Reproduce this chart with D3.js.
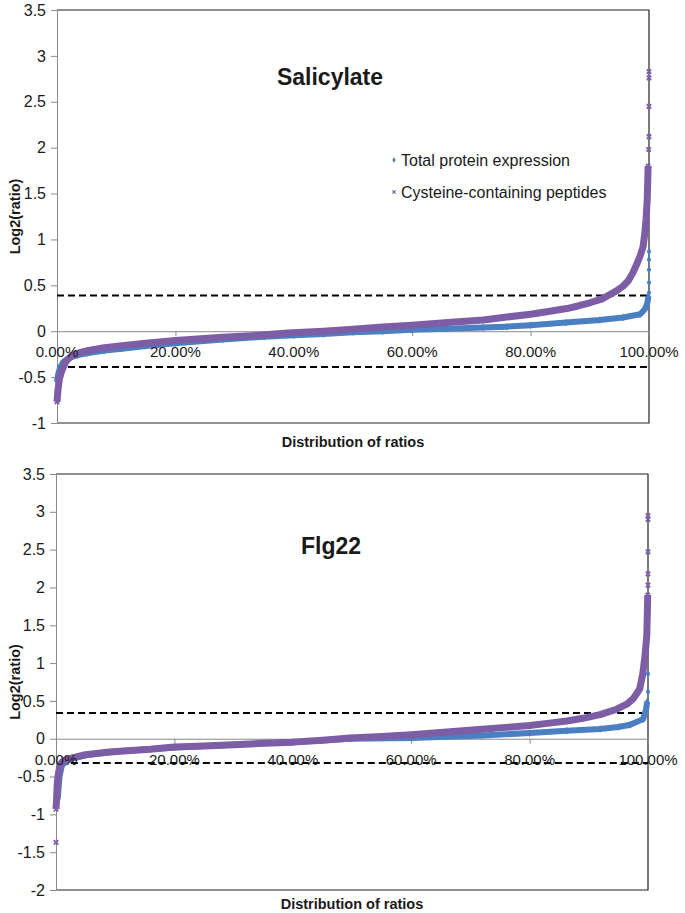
<!DOCTYPE html>
<html><head><meta charset="utf-8">
<script src="https://cdn.jsdelivr.net/npm/d3@7"></script>
<style>
body{margin:0;background:#fff}
svg{display:block}
text{font-family:"Liberation Sans",Arial,sans-serif;fill:#1a1a1a}
</style>
</head><body>
<svg id="c" width="685" height="913"></svg>
<script>
// ---------- data ----------
const seriesNames = ["Total protein expression", "Cysteine-containing peptides"];
const xTicks = [0, 20, 40, 60, 80, 100];
const xTickLabels = ["0.00%", "20.00%", "40.00%", "60.00%", "80.00%", "100.00%"];
const salYTicks = [-1, -0.5, 0, 0.5, 1, 1.5, 2, 2.5, 3, 3.5];
const flgYTicks = [-2, -1.5, -1, -0.5, 0, 0.5, 1, 1.5, 2, 2.5, 3, 3.5];

// Salicylate – total protein expression (blue)
const salTotalPct = [0, 0.2, 0.5, 1, 2, 3.5, 5, 8, 11, 15, 20, 28, 35, 40, 45, 50, 55, 60, 66, 72, 76, 80, 86, 91.7, 95.6, 98.5, 99.3, 99.7, 99.9];
const salTotalVal = [-0.55, -0.47, -0.4, -0.34, -0.29, -0.26, -0.24, -0.21, -0.19, -0.16, -0.13, -0.09, -0.06, -0.045, -0.03, -0.01, 0.0, 0.015, 0.028, 0.04, 0.05, 0.065, 0.094, 0.123, 0.15, 0.185, 0.24, 0.30, 0.38];
const salTotalOutPct = [100, 100, 100, 100, 100];
const salTotalOutVal = [0.42, 0.53, 0.67, 0.78, 0.87];

// Salicylate – cysteine-containing peptides (purple)
const salCysPct = [0, 0.15, 0.4, 0.8, 1.5, 2.5, 4, 5.3, 8, 11, 15, 20, 28, 34, 39, 45, 50, 55, 60, 66, 72, 76, 80, 83, 86.1, 88, 90, 92, 93.4, 94.5, 95.6, 96.5, 97.3, 98, 98.5, 99, 99.3, 99.5, 99.7, 99.85];
const salCysVal = [-0.77, -0.65, -0.52, -0.43, -0.33, -0.265, -0.23, -0.21, -0.18, -0.157, -0.13, -0.10, -0.066, -0.045, -0.02, 0.0, 0.022, 0.045, 0.065, 0.095, 0.123, 0.155, 0.185, 0.215, 0.247, 0.275, 0.31, 0.35, 0.40, 0.44, 0.49, 0.55, 0.64, 0.74, 0.82, 0.92, 1.07, 1.22, 1.43, 1.80];
const salCysOutPct = [99.95, 100, 100, 100, 100];
const salCysOutVal = [1.98, 2.12, 2.45, 2.76, 2.83];

// Flg22 – total protein expression (blue)
const flgTotalPct = [0, 0.3, 0.6, 1, 2, 5, 10, 20, 30, 40, 49.7, 60, 72, 80, 86.3, 91.9, 95, 97, 99.2, 99.7, 99.85];
const flgTotalVal = [-0.85, -0.78, -0.5, -0.35, -0.28, -0.22, -0.17, -0.115, -0.08, -0.045, 0.0, 0.01, 0.044, 0.075, 0.105, 0.13, 0.155, 0.185, 0.26, 0.40, 0.49];
const flgTotalOutPct = [100, 100];
const flgTotalOutVal = [0.62, 0.86];

// Flg22 – cysteine-containing peptides (purple)
const flgCysPct = [0, 0.1, 0.2, 0.35, 0.5, 0.7, 1, 1.5, 2.9, 5, 8.6, 12, 15.9, 20, 25, 30, 35, 40, 45, 49.7, 55, 60, 66, 72, 76, 80, 83, 86.3, 89, 91.9, 94.7, 96.5, 97.5, 98.3, 98.6, 99.1, 99.5, 99.8, 99.9, 99.95];
const flgCysVal = [-0.93, -0.8, -0.6, -0.49, -0.42, -0.35, -0.31, -0.28, -0.25, -0.21, -0.18, -0.16, -0.14, -0.11, -0.095, -0.08, -0.06, -0.045, -0.02, 0.01, 0.03, 0.053, 0.088, 0.124, 0.15, 0.176, 0.203, 0.234, 0.27, 0.318, 0.39, 0.46, 0.53, 0.62, 0.66, 0.85, 1.1, 1.37, 1.7, 1.9];
const flgCysOutPct = [0, 100, 100, 100, 100, 100];
const flgCysOutVal = [-1.37, 2.03, 2.18, 2.47, 2.9, 2.95];

// threshold lines [value, start %, end %]
const salThresholds = [[0.39, 0, 100], [-0.39, 0, 100]];
const flgThresholds = [[0.34, 0, 100], [-0.32, 2.5, 100]];

const blue = "#4a7fc1";
const purple = "#7d5ea6";

// ---------- drawing ----------
const svg = d3.select("#c");

function drawPanel(cfg) {
  const g = svg.append("g");
  const x = d3.scaleLinear().domain([0, 100]).range([cfg.left, cfg.right]);
  const y = d3.scaleLinear().domain(cfg.yDomain).range([cfg.bottom, cfg.top]);

  // plot area border (top, right, bottom)
  g.append("path")
    .attr("d", `M${cfg.left},${cfg.top}H${cfg.right}V${cfg.bottom}H${cfg.left}`)
    .attr("fill", "none").attr("stroke", "#222").attr("stroke-width", 1.2);

  // y axis
  const yAxis = d3.axisLeft(y).tickValues(cfg.yTicks).tickSize(6).tickSizeOuter(0)
    .tickFormat(d => String(d));
  const ya = g.append("g").attr("transform", `translate(${cfg.left},0)`).call(yAxis);
  ya.select(".domain").attr("stroke", "#8a8a8a");
  ya.selectAll(".tick line").attr("stroke", "#8a8a8a");
  ya.selectAll(".tick text").attr("x", -11).attr("font-size", 16).attr("fill", "#1a1a1a")
    .style("font-family", '"Liberation Sans",Arial,sans-serif');

  // zero axis line with ticks
  const xa = d3.axisBottom(x).tickValues(xTicks).tickSize(5).tickSizeOuter(0)
    .tickFormat(() => "");
  const xg = g.append("g").attr("transform", `translate(0,${y(0)})`).call(xa);
  xg.select(".domain").attr("stroke", "#8a8a8a");
  xg.selectAll(".tick line").attr("stroke", "#8a8a8a");

  // threshold dashed lines
  cfg.thresholds.forEach(t => {
    g.append("line")
      .attr("x1", x(t[1])).attr("x2", x(t[2]))
      .attr("y1", y(t[0])).attr("y2", y(t[0]))
      .attr("stroke", "#000").attr("stroke-width", 2)
      .attr("stroke-dasharray", "7,4");
  });

  // series
  const line = d3.line().x(d => x(d[0])).y(d => y(d[1]));
  cfg.series.forEach(s => {
    const pts = s.pct.map((p, i) => [p, s.val[i]]);
    g.append("path").datum(pts).attr("d", line)
      .attr("fill", "none").attr("stroke", s.color)
      .attr("stroke-width", s.width).attr("stroke-linejoin", "round");
    const outs = s.outPct.map((p, i) => [p, s.outVal[i]]);
    const all = pts.concat(outs);
    if (s.kind === "diamond") {
      g.selectAll(null).data(all).enter().append("path")
        .attr("transform", d => `translate(${x(d[0])},${y(d[1])})`)
        .attr("d", d3.symbol().type(d3.symbolDiamond).size(18))
        .attr("fill", s.color);
    } else {
      g.selectAll(null).data(all).enter().append("path")
        .attr("transform", d => `translate(${x(d[0])},${y(d[1])})`)
        .attr("d", "M-2.2,-2.2L2.2,2.2M-2.2,2.2L2.2,-2.2")
        .attr("stroke", s.color).attr("stroke-width", 1.8).attr("fill", "none");
    }
  });

  // x tick labels (drawn at zero line)
  g.selectAll(null).data(xTicks).enter().append("text")
    .attr("x", d => x(d)).attr("y", y(0) + 26)
    .attr("text-anchor", "middle").attr("font-size", 15)
    .text((d, i) => xTickLabels[i]);

  // titles
  g.append("text").attr("x", cfg.titleX).attr("y", cfg.titleY)
    .attr("text-anchor", "middle").attr("font-size", cfg.titleSize)
    .attr("font-weight", "bold").text(cfg.title);

  g.append("text").attr("x", (cfg.left + cfg.right) / 2).attr("y", cfg.bottom + cfg.xLabelOffset)
    .attr("text-anchor", "middle").attr("font-size", 14.5).attr("font-weight", "bold")
    .text("Distribution of ratios");

  g.append("text")
    .attr("transform", `translate(20,${(cfg.top + cfg.bottom) / 2}) rotate(-90)`)
    .attr("text-anchor", "middle").attr("font-size", 14.5).attr("font-weight", "bold")
    .text("Log2(ratio)");

  if (cfg.legend) {
    const lg = g.append("g");
    lg.append("path").attr("transform", "translate(394,160)")
      .attr("d", d3.symbol().type(d3.symbolDiamond).size(10)).attr("fill", blue);
    lg.append("text").attr("x", 401).attr("y", 166).attr("font-size", 16).text(seriesNames[0]);
    lg.append("path").attr("transform", "translate(394,192)")
      .attr("d", "M-1.6,-1.6L1.6,1.6M-1.6,1.6L1.6,-1.6")
      .attr("stroke", purple).attr("stroke-width", 1.2).attr("fill", "none");
    lg.append("text").attr("x", 401).attr("y", 198).attr("font-size", 16).text(seriesNames[1]);
  }
}

drawPanel({
  left: 57, right: 649, top: 10, bottom: 423, yDomain: [-1, 3.5], yTicks: salYTicks,
  thresholds: salThresholds, title: "Salicylate", titleX: 330, titleY: 85, titleSize: 23,
  legend: true, xLabelOffset: 24,
  series: [
    {pct: salTotalPct, val: salTotalVal, outPct: salTotalOutPct, outVal: salTotalOutVal, color: blue, width: 6, kind: "diamond"},
    {pct: salCysPct, val: salCysVal, outPct: salCysOutPct, outVal: salCysOutVal, color: purple, width: 7, kind: "x"}
  ]
});

drawPanel({
  left: 56, right: 648, top: 474, bottom: 890, yDomain: [-2, 3.5], yTicks: flgYTicks,
  thresholds: flgThresholds, title: "Flg22", titleX: 331, titleY: 554, titleSize: 23,
  legend: false, xLabelOffset: 19,
  series: [
    {pct: flgTotalPct, val: flgTotalVal, outPct: flgTotalOutPct, outVal: flgTotalOutVal, color: blue, width: 6, kind: "diamond"},
    {pct: flgCysPct, val: flgCysVal, outPct: flgCysOutPct, outVal: flgCysOutVal, color: purple, width: 7, kind: "x"}
  ]
});
</script>
</body></html>
